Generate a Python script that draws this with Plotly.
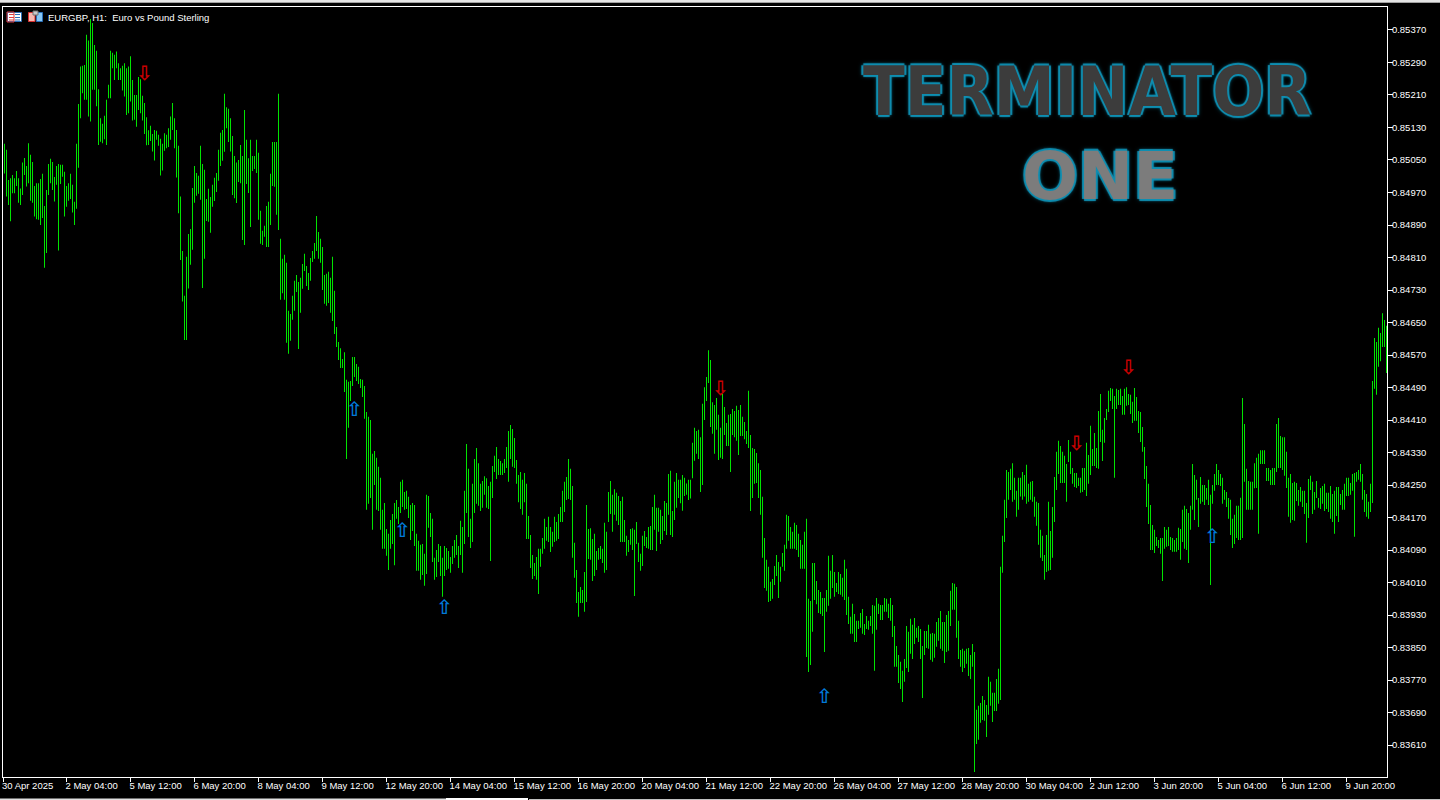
import plotly.graph_objects as go

# Hourly bar extremes, in points (0.00001) above 0.83000
highs_pts = [
2090,2075,2001,2005,2013,2005,2023,2005,1980,2044,2055,2035,2091,2063,2045,1986,1993,1993,2003,2016,
1937,1976,2040,2053,2045,2008,2035,2040,2038,2038,2021,1986,1993,2016,1989,1947,2090,2188,
2280,2282,2284,2358,2344,2397,2387,2333,2319,2224,2153,2139,2159,2198,2235,2319,2314,2309,2317,2288,2276,2282,
2288,2276,2280,2305,2247,2210,2210,2254,2249,2208,2190,2155,2123,2134,2114,2124,2122,2112,2102,2090,
2116,2112,2128,2157,2190,2153,2124,2085,
1960,1826,1716,1812,1868,1880,1981,2035,2018,2011,2085,2040,2026,1954,1979,1959,1989,2006,2018,2075,2117,2124,
2213,2180,2176,2153,2109,2060,2044,2050,2087,2060,2173,2100,2054,2100,2060,2060,2100,2068,1925,1876,1888,1937,1947,2016,
2094,2094,2094,2213,1856,1807,1817,1797,1679,1671,1716,1753,1767,1750,1760,1794,1819,1789,1772,1809,
1826,1846,1912,1873,1856,1836,1767,1770,1775,1760,1812,1728,
1639,1602,1587,1560,1577,1509,1504,1506,1565,1565,1548,1541,1511,1509,1494,1430,1418,1410,1327,1334,
1317,1295,1268,1189,1206,1142,1130,1164,1179,1206,1213,1196,1258,1263,1233,1236,1221,1201,1206,1201,
1130,1113,1103,1105,1081,1226,1223,1181,1167,1071,1090,1105,1100,1071,1100,1095,1088,1073,1100,1115,
1127,1100,1162,1147,1236,1351,1290,1167,1253,1314,1341,1304,1253,1260,1272,1267,1248,1258,1297,1322,
1344,1314,1309,1304,1314,1344,1383,1398,1388,1366,1312,1275,1282,1263,1280,1253,1174,1127,1078,1058,
1073,1093,1093,1120,1167,1147,1172,1147,1135,1172,1159,1179,1196,1236,1258,1270,1314,1290,1248,1108,
1041,987,999,992,1036,1201,1142,1144,1117,1130,1088,1095,1100,1093,1157,1135,1233,1260,1226,1240,
1231,1223,1211,1221,1164,1125,1115,1142,1144,1140,1159,1108,1081,1125,1137,1122,1147,1149,1196,1226,
1194,1194,1189,1174,1211,1206,1277,
1285,1186,1258,1280,1263,1263,1275,1268,1254,1263,1263,1354,1391,1383,1386,1368,1450,1491,1516,1582,
1558,1454,1447,1464,1423,1391,1474,1442,1403,1423,1425,1437,1432,1445,1435,1447,1418,1405,1383,1482,
1373,1341,1339,1329,1304,1287,1221,1120,1066,1049,1012,1019,1051,1078,1061,1049,1083,1103,1177,1174,
1147,1135,1157,1152,1130,1115,1103,1135,1167,970,965,1058,1058,1014,992,987,972,972,992,1076,
1039,1078,1036,1009,1036,1031,1022,1066,1044,975,926,958,933,916,916,935,945,908,928,916,
928,955,953,972,958,955,955,972,970,958,972,955,903,854,832,815,793,822,903,889,
921,906,923,899,903,896,854,891,891,906,884,886,884,913,923,940,913,913,930,940,
990,1009,1007,999,916,844,847,842,847,849,832,859,839,697,707,714,731,721,709,778,
766,739,739,773,798,
1049,1125,1214,1287,1282,1290,1304,1268,1236,1268,1268,1282,1275,1300,1253,1258,1260,1221,1209,1206,
1140,1125,1078,1127,1209,1137,1196,1270,1332,1359,1346,1332,1322,1302,1361,1332,1292,1280,1280,1268,
1268,1292,1292,1354,1324,1396,1339,1378,1341,1432,1474,1386,1415,1437,1482,1489,1487,1469,1487,1484,
1487,1469,1487,1491,1474,1472,1455,1489,1467,1432,1430,1393,1344,1297,1253,1201,1152,1140,1122,1115,
1120,1120,1147,1140,1147,1122,1120,1115,1120,1145,1142,1189,1199,1191,1181,1199,1302,1275,1263,1218,
1270,1250,1250,1243,1263,1226,1250,1277,1302,1287,1277,1268,1238,1233,1218,1214,1167,1177,1199,1199,
1219,1464,1400,1290,1260,1258,1258,1304,1317,1327,1336,1336,1336,1292,1292,1287,1292,1292,1400,1415,
1371,1368,1368,1332,1268,1277,1255,1258,1255,1238,1245,1236,1236,1206,1265,1273,1258,1233,1260,1218,
1243,1248,1253,1231,1231,1248,1228,1236,1245,1245,1228,1238,1253,1268,1268,1255,1277,1280,1282,1287,
1302,1277,1238,1228,1209,1253,1506,1612,1602,1637,1624,1673,1656,1642,
]
lows_pts = [
2017,1960,1939,1899,1968,1968,1986,1945,1939,1964,2013,1985,1993,1950,1945,1911,1904,1903,1890,1907,
1785,1821,1964,1993,1976,1948,1989,1827,1991,2009,1911,1935,1950,1954,1921,1890,1930,2031,
2153,2214,2198,2198,2157,2145,2223,2223,2182,2087,2095,2091,2101,2087,2202,2202,2276,2247,2276,2247,2247,2221,
2206,2161,2165,2194,2147,2149,2132,2173,2165,2147,2114,2086,2087,2097,2071,2049,2100,2085,2012,2024,
2073,2079,2082,2100,2124,2079,2007,1919,
1804,1702,1607,1607,1734,1792,1829,1945,1962,1967,1952,1735,1807,1900,1898,1871,1935,1949,1971,1999,2035,2048,
2070,2128,2094,2071,1964,1956,1944,1996,1993,1853,1841,1991,1969,1885,2023,2028,2018,1903,1844,1841,1861,1836,1836,1890,
1986,1984,1915,1878,1706,1722,1706,1600,1573,1605,1657,1679,1725,1585,1674,1733,1777,1740,1730,1753,
1799,1807,1826,1807,1797,1730,1696,1691,1698,1674,1654,1622,
1590,1558,1538,1538,1479,1314,1391,1457,1494,1516,1506,1499,1489,1467,1413,1189,1204,1218,1140,1250,
1189,1186,1140,1093,1093,1076,1041,1093,1105,1053,1167,1154,1181,1196,1189,1191,1169,1115,1137,1100,
1039,1039,1017,1029,1002,1031,1145,1122,1061,1017,1024,1061,1026,975,1026,1041,1044,1034,1056,1071,
1078,1046,1078,1034,1105,1181,1122,1095,1110,1181,1204,1199,1186,1194,1226,1194,1191,1063,1218,1282,
1265,1275,1275,1275,1280,1292,1258,1314,1295,1292,1253,1208,1191,1177,1208,1117,1117,1046,1019,1026,
1017,982,1049,1081,1093,1113,1110,1085,1098,1110,1113,1117,1159,1159,1184,1213,1216,1213,1071,1022,
960,926,960,960,938,962,1068,1066,1014,1026,1041,1066,1068,1058,1034,1041,1159,1179,1135,1177,
1162,1152,1110,1110,1110,1076,1085,1103,1090,977,1105,1061,1039,1051,1100,1095,1093,1090,1090,1140,
1088,1135,1105,1115,1137,1127,1177,
1127,1122,1164,1194,1218,1205,1187,1223,1226,1213,1217,1267,1310,1327,1314,1233,1250,1410,1457,1501,
1393,1376,1327,1386,1312,1317,1314,1373,1346,1346,1282,1373,1368,1359,1324,1371,1371,1363,1351,1341,
1186,1218,1253,1255,1218,1177,1071,997,990,962,965,970,1004,1026,972,1012,1049,1039,1093,1113,
1093,1093,1093,1090,1073,1044,1044,1044,827,790,807,889,967,957,935,933,928,839,938,953,
970,997,975,987,982,980,975,967,930,908,884,884,864,864,896,899,884,881,896,894,
903,884,793,894,933,918,918,938,938,923,916,876,803,803,763,748,716,766,800,790,
835,822,859,874,864,822,726,832,849,847,820,815,825,852,867,847,842,812,839,842,
903,943,943,874,822,803,790,800,810,780,773,803,544,613,623,665,672,670,630,685,
707,667,694,694,712,
721,1034,1110,1169,1214,1238,1209,1214,1172,1189,1222,1214,1222,1204,1209,1214,1209,1172,1150,1103,
1071,1063,1017,1036,1039,1041,1071,1159,1238,1277,1255,1255,1255,1209,1307,1277,1253,1245,1243,1248,
1231,1233,1238,1223,1253,1275,1297,1297,1292,1290,1356,1309,1354,1410,1430,1457,1437,1268,1437,1447,
1447,1423,1423,1445,1447,1425,1403,1408,1408,1378,1356,1332,1265,1196,1154,1090,1090,1083,1100,1095,
1081,1014,1093,1098,1100,1090,1086,1086,1086,1090,1066,1110,1093,1090,1058,1140,1189,1164,1214,1147,
1204,1209,1201,1214,1201,1004,1204,1236,1250,1250,1248,1204,1214,1196,1167,1127,1095,1105,1120,1115,
1115,1120,1258,1189,1189,1189,1189,1242,1243,1130,1302,1302,1302,1260,1260,1250,1250,1250,1282,1292,
1292,1287,1273,1243,1172,1157,1164,1162,1211,1199,1209,1196,1179,1108,1169,1238,1179,1189,1218,1194,
1191,1204,1186,1191,1184,1167,1159,1130,1174,1159,1201,1189,1189,1223,1223,1226,1236,1123,1258,1263,
1258,1214,1184,1172,1167,1184,1206,1487,1472,1541,1555,1590,1590,1526,
]
assert len(highs_pts) == len(lows_pts), (len(highs_pts), len(lows_pts))

date_labels = ["30 Apr 2025","2 May 04:00","5 May 12:00","6 May 20:00","8 May 04:00","9 May 12:00",
               "12 May 20:00","14 May 04:00","15 May 12:00","16 May 20:00","20 May 04:00","21 May 12:00",
               "22 May 20:00","26 May 04:00","27 May 12:00","28 May 20:00","30 May 04:00","2 Jun 12:00",
               "3 Jun 20:00","5 Jun 04:00","6 Jun 12:00","9 Jun 20:00"]
price_ticks = [0.85370,0.85290,0.85210,0.85130,0.85050,0.84970,0.84890,0.84810,0.84730,0.84650,0.84570,0.84490,
               0.84410,0.84330,0.84250,0.84170,0.84090,0.84010,0.83930,0.83850,0.83770,0.83690,0.83610]
sell_idx = [70,358,536,562]
sell_pts = [2259,1484,1349,1535]
buy_idx = [175,199,220,410,604]
buy_pts = [1432,1134,945,726,1120]

BASE = 0.83
price = lambda p: BASE + p * 1e-5
n = len(highs_pts)
xs = list(range(n))

fig = go.Figure()
fig.add_trace(go.Bar(x=xs, y=[price(h) - price(l) for h, l in zip(highs_pts, lows_pts)],
                     base=[price(l) for l in lows_pts], width=0.5,
                     marker=dict(color="#00e400", line=dict(width=0)), hoverinfo="skip"))
fig.add_trace(go.Scatter(x=sell_idx, y=[price(p) for p in sell_pts], mode="text", text=["⇩"]*len(sell_idx),
                         textfont=dict(family="DejaVu Sans", size=20, weight="bold", color="#c80000"), hoverinfo="skip"))
fig.add_trace(go.Scatter(x=buy_idx, y=[price(p) for p in buy_pts], mode="text", text=["⇧"]*len(buy_idx),
                         textfont=dict(family="DejaVu Sans", size=20, weight="bold", color="#0078d8"), hoverinfo="skip"))

L, R, T, B = 3, 1387, 7, 777
W, H = R - L, B - T
px = lambda v: (v - L) / W
py = lambda v: (B - v) / H

def rect(x0, y0, x1, y1, fill, line=None):
    return dict(type="rect", xref="paper", yref="paper", x0=px(x0), x1=px(x1), y0=py(y0), y1=py(y1),
                fillcolor=fill, line=dict(width=1 if line else 0, color=line or fill), layer="above")

shapes = [
    rect(0, 0, 1440, 2, "#e4e4e4"), rect(0, 2, 1440, 3, "#a0a0a0"),
    rect(0, 798.5, 446, 800, "#e0e0e0"), rect(446, 798, 528, 800, "#ffffff"),
    rect(529, 799, 1440, 800, "#c0c0c0"),
    rect(7.5, 12.5, 21.5, 21.5, "#ffffff", "#2a6fb8"),
    rect(7, 12, 14, 22, "rgba(0,0,0,0)", "#e04040"),
    rect(9, 14, 14, 15, "#e04040"), rect(9, 17, 14, 18, "#e04040"), rect(9, 19.5, 14, 20.5, "#e04040"),
    rect(15, 14, 20, 15, "#2a6fb8"), rect(15, 17, 20, 18, "#2a6fb8"), rect(15, 19.5, 20, 20.5, "#2a6fb8"),
    rect(28.5, 12.5, 35, 21.5, "#f8b8b0", "#d83030"),
    rect(36.5, 12.5, 42.5, 21.5, "#88c8f4", "#2a6fb8"),
    rect(33, 11, 38, 15, "#c8c8c8", "#707070"),
]

GLOW = "2px 0 1px #0f8fb2, -2px 0 1px #0f8fb2, 0 2px 1px #0f8fb2, 0 -2px 1px #0f8fb2, 0 0 5px #0f8fb2"
annotations = [
    dict(xref="paper", yref="paper", x=px(46), y=py(17.5), xanchor="left", yanchor="middle", showarrow=False,
         text="EURGBP, H1:  Euro vs Pound Sterling", font=dict(family="Liberation Sans", size=9.5, color="#ffffff")),
    dict(xref="paper", yref="paper", x=px(1087), y=py(91), xanchor="center", yanchor="middle", showarrow=False,
         text="<b>TERMINATOR</b>",
         font=dict(family="DejaVu Sans Condensed", size=68, color="#3c3c3c", shadow=GLOW)),
    dict(xref="paper", yref="paper", x=px(1100), y=py(177), xanchor="center", yanchor="middle", showarrow=False,
         text="<b>ONE</b>",
         font=dict(family="DejaVu Sans", size=66, color="#7c7c7c", shadow=GLOW)),
]

tick_idx = [-0.75] + [32 * k - 1 for k in range(1, len(date_labels))]
AX = "#ffffff"
fig.update_layout(
    width=1440, height=800, autosize=False, showlegend=False, barmode="overlay",
    margin=dict(l=L, r=1440 - R, t=T, b=800 - B, pad=0),
    paper_bgcolor="#000000", plot_bgcolor="#000000",
    shapes=shapes, annotations=annotations,
    font=dict(family="Liberation Sans", color="#ffffff", size=9.5),
    xaxis=dict(range=[-0.75, 691.25], tickmode="array", tickvals=tick_idx, ticktext=date_labels,
               ticks="outside", ticklen=4, tickcolor=AX, tickwidth=1, ticklabelposition="outside right",
               ticklabelshift=-2, tickangle=0, showgrid=False, zeroline=False, showline=True, linecolor=AX,
               linewidth=1, mirror=True,
               tickfont=dict(family="Liberation Sans", size=9.5, color="#ffffff"), automargin=False),
    yaxis=dict(range=[price(531.6), price(2426.5)], side="right", tickmode="array", tickvals=price_ticks,
               ticktext=[f"{p:.5f}" for p in price_ticks], ticks="outside", ticklen=5, tickcolor=AX, tickwidth=1,
               ticklabelstandoff=-3, showgrid=False, zeroline=False, showline=True, linecolor=AX, linewidth=1,
               mirror=True, tickfont=dict(family="Liberation Sans", size=9.5, color="#ffffff"), automargin=False),
)

fig.write_html("out.html", config={"displayModeBar": False},
               post_script="document.body.style.margin='0';document.body.style.overflow='hidden';document.body.style.background='#000';")
